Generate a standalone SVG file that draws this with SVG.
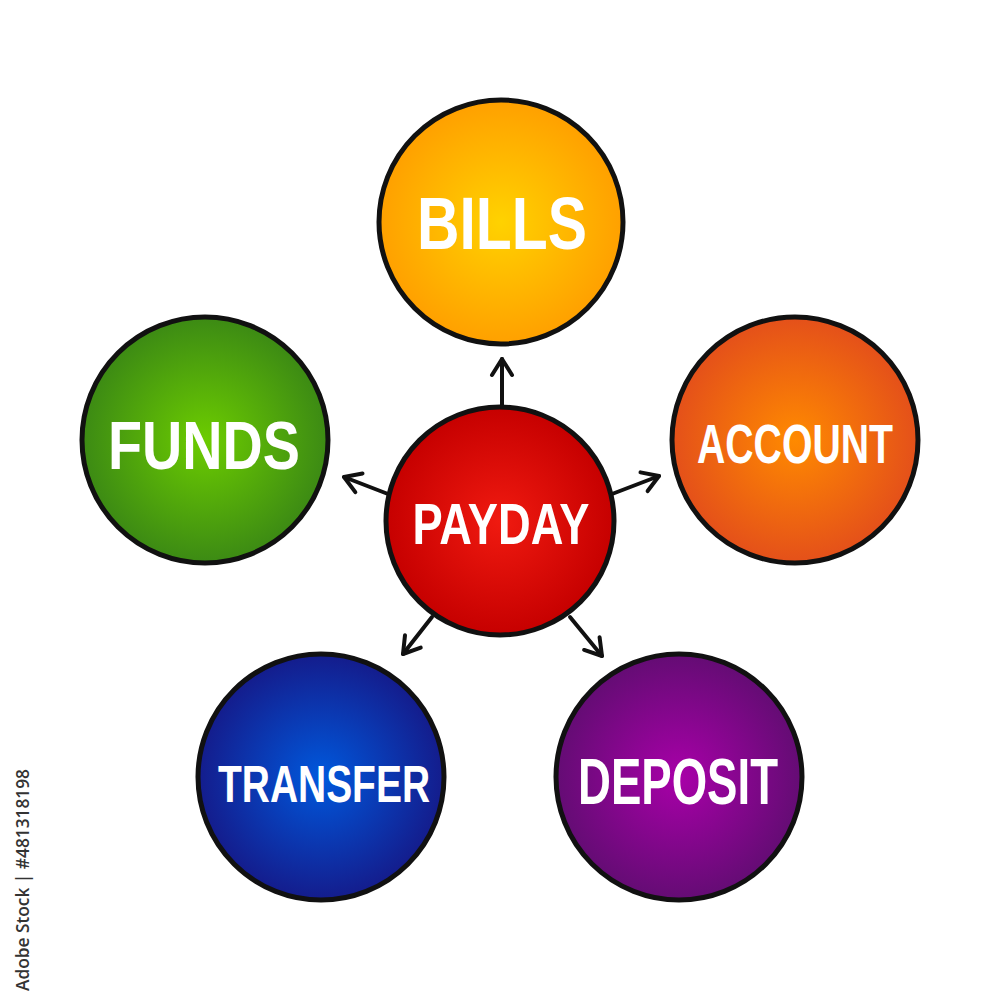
<svg xmlns="http://www.w3.org/2000/svg" width="1000" height="1000" viewBox="0 0 1000 1000">
<defs>
<radialGradient id="gBills" cx="50%" cy="50%" r="50%"><stop offset="0" stop-color="#FFD200"/><stop offset="1" stop-color="#FFA000"/></radialGradient>
<radialGradient id="gFunds" cx="50%" cy="50%" r="50%"><stop offset="0" stop-color="#6CCC00"/><stop offset="1" stop-color="#3C8A14"/></radialGradient>
<radialGradient id="gAccount" cx="50%" cy="50%" r="50%"><stop offset="0" stop-color="#FF8A00"/><stop offset="1" stop-color="#E4501A"/></radialGradient>
<radialGradient id="gPayday" cx="50%" cy="50%" r="50%"><stop offset="0" stop-color="#F01A10"/><stop offset="1" stop-color="#C60000"/></radialGradient>
<radialGradient id="gTransfer" cx="50%" cy="50%" r="50%"><stop offset="0" stop-color="#0058DC"/><stop offset="1" stop-color="#141C8C"/></radialGradient>
<radialGradient id="gDeposit" cx="50%" cy="50%" r="50%"><stop offset="0" stop-color="#A800A8"/><stop offset="1" stop-color="#640C74"/></radialGradient>
<marker id="ah" viewBox="0 0 24 26" refX="20" refY="13" markerWidth="24" markerHeight="26" markerUnits="userSpaceOnUse" orient="auto">
<path d="M4,3 L20,13 L4,23" fill="none" stroke="#111" stroke-width="4" stroke-linecap="round" stroke-linejoin="round"/>
</marker>
</defs>
<style>
.c{stroke:#111;stroke-width:5}
.t{font-family:"Liberation Sans",Arial,sans-serif;font-weight:bold;fill:#fff;text-anchor:middle}
.a{stroke:#111;stroke-width:4;fill:none;stroke-linecap:round;marker-end:url(#ah)}
.wm{font-family:"Open Sans","DejaVu Sans",sans-serif;font-size:18px;font-weight:600;fill:#333}
</style>
<rect width="1000" height="1000" fill="#fff"/>
<g id="connectors">
<line class="a" x1="502" y1="407" x2="502" y2="359"/>
<line class="a" x1="388" y1="494" x2="344" y2="477"/>
<line class="a" x1="612" y1="494" x2="659" y2="476"/>
<line class="a" x1="432" y1="617" x2="403" y2="654"/>
<line class="a" x1="570" y1="617" x2="602" y2="656"/>
</g>
<g id="bills"><circle class="c" cx="501" cy="222" r="122" fill="url(#gBills)"/><text class="t" x="502" y="249" font-size="74" textLength="170" lengthAdjust="spacingAndGlyphs">BILLS</text></g>
<g id="funds"><circle class="c" cx="205" cy="440" r="123" fill="url(#gFunds)"/><text class="t" x="204" y="469" font-size="68" textLength="192" lengthAdjust="spacingAndGlyphs">FUNDS</text></g>
<g id="account"><circle class="c" cx="795" cy="440" r="123" fill="url(#gAccount)"/><text class="t" x="795" y="463" font-size="55" textLength="196" lengthAdjust="spacingAndGlyphs">ACCOUNT</text></g>
<g id="payday"><circle class="c" cx="500" cy="521" r="114" fill="url(#gPayday)"/><text class="t" x="501" y="544" font-size="58" textLength="177" lengthAdjust="spacingAndGlyphs">PAYDAY</text></g>
<g id="transfer"><circle class="c" cx="321" cy="777" r="123" fill="url(#gTransfer)"/><text class="t" x="324" y="802" font-size="52" textLength="212" lengthAdjust="spacingAndGlyphs">TRANSFER</text></g>
<g id="deposit"><circle class="c" cx="679" cy="777" r="123" fill="url(#gDeposit)"/><text class="t" x="678" y="804" font-size="64" textLength="200" lengthAdjust="spacingAndGlyphs">DEPOSIT</text></g>
<text class="wm" transform="translate(29,991) rotate(-90)" textLength="222" lengthAdjust="spacingAndGlyphs">Adobe Stock | #481318198</text>
</svg>
